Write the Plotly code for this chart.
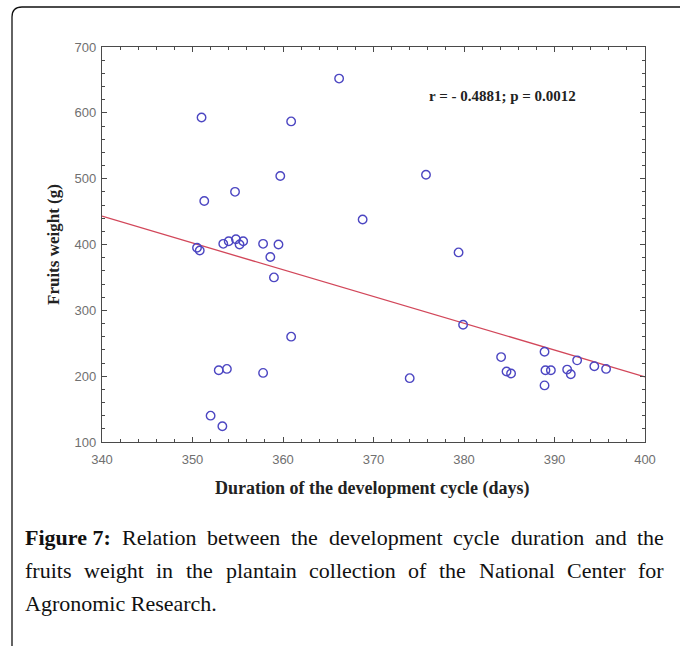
import plotly.graph_objects as go

# Data
duration_days = [351.0, 351.3, 354.7, 359.7, 360.9, 366.2, 375.8, 368.8, 379.4,
                 350.5, 350.8, 353.4, 354.0, 354.8, 355.2, 355.6, 357.8, 359.5,
                 358.6, 359.0, 360.9, 352.9, 353.8, 357.8, 352.0, 353.3,
                 379.9, 374.0, 384.1, 384.7, 385.2, 388.9, 389.0, 389.6, 388.9,
                 391.4, 391.8, 392.5, 394.4, 395.7]
fruit_weight_g = [593, 466, 480, 504, 587, 652, 506, 438, 388,
                  395, 391, 401, 405, 408, 400, 405, 401, 400,
                  381, 350, 260, 209, 211, 205, 140, 124,
                  278, 197, 229, 207, 204, 237, 209, 209, 186,
                  210, 203, 224, 215, 211]

# Regression line end points
fit_x = [340, 400]
fit_y = [443, 199]

x_ticks = [340, 350, 360, 370, 380, 390, 400]
y_ticks = [100, 200, 300, 400, 500, 600, 700]

stat_text = "r = - 0.4881; p = 0.0012"
x_title = "Duration of the development cycle (days)"
y_title = "Fruits weight (g)"
caption_line1 = ["Figure 7:", "Relation", "between", "the", "development",
                 "cycle", "duration", "and", "the"]
caption_line2 = ["fruits", "weight", "in", "the", "plantain", "collection", "of",
                 "the", "National", "Center", "for"]
caption_line3 = "Agronomic Research."

W, H = 680, 646
L, R, T, B = 102, 645, 47, 442  # plot area in pixels

def px(x):
    return (x - L) / (R - L)

def py(y):
    return (B - y) / (B - T)

# Times (Liberation Serif) advance widths, per 1000 em
TIMES = dict(zip(" abcdefghijklmnopqrstuvwxyz", [250, 444, 500, 444, 500, 444, 333, 500, 500, 278,
             278, 500, 278, 778, 500, 500, 500, 500, 333, 389, 278, 500, 500, 722, 500, 500, 444]))
TIMES.update({"A": 722, "C": 667, "F": 556, "N": 722, "R": 667, ".": 250, ":": 278, "7": 500})
TIMES_B = {"F": 611, "i": 278, "g": 500, "u": 556, "r": 444, "e": 444, " ": 250, "7": 500, ":": 333}

def text_width(s, size, bold=False):
    table = TIMES_B if bold else TIMES
    return sum(table.get(c, 500) for c in s) * size / 1000.0

fig = go.Figure()
fig.add_trace(go.Scatter(x=fit_x, y=fit_y, mode="lines",
                         line=dict(color="#d2475a", width=1.3),
                         hoverinfo="skip", showlegend=False))
fig.add_trace(go.Scatter(x=duration_days, y=fruit_weight_g, mode="markers",
                         marker=dict(symbol="circle-open", size=8.5,
                                     color="#4c46c2", line=dict(width=1.4)),
                         showlegend=False))

axis_common = dict(showgrid=False, zeroline=False, showline=True,
                   linecolor="#4a4a4a", linewidth=1.2, mirror="ticks",
                   ticks="inside", ticklen=5, tickcolor="#4a4a4a", tickwidth=1,
                   tickfont=dict(family="Liberation Sans", size=13, color="#707070"))

fig.update_xaxes(range=[340, 400], tickvals=x_ticks,
                 minor=dict(dtick=2, ticks="inside", ticklen=3, tickcolor="#4a4a4a"),
                 ticklabelstandoff=5, **axis_common)
fig.update_yaxes(range=[100, 700], tickvals=y_ticks,
                 minor=dict(dtick=20, ticks="inside", ticklen=3, tickcolor="#4a4a4a"),
                 ticklabelstandoff=2, **axis_common)

serif = "Liberation Serif"
annotations = [
    dict(x=384.2, y=626, xref="x", yref="y", text="<b>" + stat_text + "</b>",
         showarrow=False, font=dict(family=serif, size=15, color="#222")),
    dict(x=px(372), y=py(488), xref="paper", yref="paper", text="<b>" + x_title + "</b>",
         xanchor="center", yanchor="middle", showarrow=False,
         font=dict(family=serif, size=18, color="#222")),
    dict(x=px(53), y=py(245), xref="paper", yref="paper", text="<b>" + y_title + "</b>",
         xanchor="center", yanchor="middle", textangle=-90, showarrow=False,
         font=dict(family=serif, size=17, color="#222")),
]

# Justified caption: spread words between left and right text edges
CAP_SIZE = 22
LEFT, RIGHT = 24, 663
cap_font = dict(family=serif, size=CAP_SIZE, color="#111")
for words, yy in [(caption_line1, 537), (caption_line2, 570)]:
    widths = [text_width(w, CAP_SIZE, bold=(w == "Figure 7:")) for w in words]
    gap = (RIGHT - LEFT - sum(widths)) / (len(words) - 1)
    x = LEFT
    for w, wd in zip(words, widths):
        label = "<b>" + w + "</b>" if w == "Figure 7:" else w
        annotations.append(dict(x=px(x), y=py(yy), xref="paper", yref="paper",
                                text=label, xanchor="left", yanchor="middle",
                                showarrow=False, borderpad=0, font=cap_font))
        x += wd + gap
annotations.append(dict(x=px(LEFT), y=py(603), xref="paper", yref="paper",
                        text=caption_line3, xanchor="left", yanchor="middle",
                        showarrow=False, borderpad=0, font=cap_font))

# Rounded frame (top-left corner visible)
fx, fy, r = 12, 7, 10
path = (f"M {px(fx)},{py(H+5)} L {px(fx)},{py(fy+r)} "
        f"Q {px(fx)},{py(fy)} {px(fx+r)},{py(fy)} L {px(W+5)},{py(fy)}")
shapes = [dict(type="path", xref="paper", yref="paper", path=path,
               line=dict(color="#111", width=1.3))]

fig.update_layout(width=W, height=H, margin=dict(l=L, r=W - R, t=T, b=H - B),
                  paper_bgcolor="white", plot_bgcolor="white",
                  annotations=annotations, shapes=shapes)

fig.write_html("out.html")
